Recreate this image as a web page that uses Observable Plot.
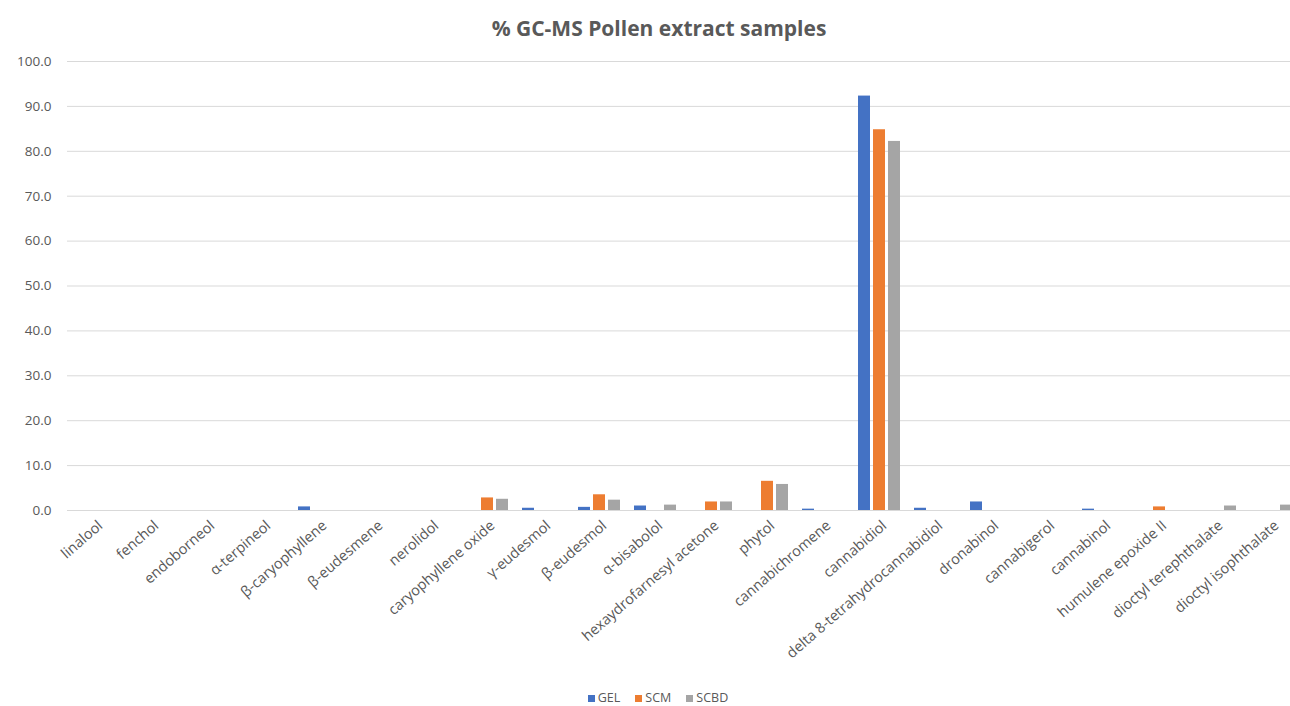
<!DOCTYPE html>
<html>
<head>
<meta charset="utf-8">
<script src="https://cdn.jsdelivr.net/npm/d3@7"></script>
<script src="https://cdn.jsdelivr.net/npm/@observablehq/plot@0.6"></script>
<style>
  body { margin: 0; background: #fff; width: 1290px; height: 706px; overflow: hidden; position: relative;
         font-family: "Open Sans", "Noto Sans", sans-serif; color: #595959; }
  #title { height: 45px; line-height: 56px; text-align: center; font-weight: bold;
           font-size: 21px; padding-left: 28px; box-sizing: border-box; }
  #legend { position: absolute; left: 0; width: 1290px; top: 691px; line-height: 14px;
            display: flex; justify-content: center; gap: 15px; font-size: 12.5px;
            padding-left: 26px; box-sizing: border-box; }
  #legend span.sw { display: inline-block; width: 7px; height: 7px; margin-right: 3px; }
</style>
</head>
<body>
<div id="title">% GC-MS Pollen extract samples</div>
<div id="chart"></div>
<div id="legend"></div>
<script>
// Compounds identified by GC-MS, in reporting order
const categories = [
  "linalool", "fenchol", "endoborneol", "α-terpineol", "β-caryophyllene",
  "β-eudesmene", "nerolidol", "caryophyllene oxide", "γ-eudesmol", "β-eudesmol",
  "α-bisabolol", "hexaydrofarnesyl acetone", "phytol", "cannabichromene",
  "cannabidiol", "delta 8-tetrahydrocannabidiol", "dronabinol", "cannabigerol",
  "cannabinol", "humulene epoxide II", "dioctyl terephthalate", "dioctyl isophthalate"
];

// Relative abundance (%) for each sample
const gel  = [0, 0, 0, 0, 0.8, 0, 0, 0, 0.5, 0.7, 1.0, 0, 0, 0.3, 92.3, 0.5, 1.9, 0, 0.3, 0, 0, 0];
const scm  = [0, 0, 0, 0, 0, 0, 0, 2.8, 0, 3.5, 0, 1.9, 6.5, 0, 84.8, 0, 0, 0, 0, 0.8, 0, 0];
const scbd = [0, 0, 0, 0, 0, 0, 0, 2.5, 0, 2.3, 1.2, 1.9, 5.8, 0, 82.2, 0, 0, 0, 0, 0, 1.0, 1.2];

const samples = ["GEL", "SCM", "SCBD"];
const colors = ["#4472C4", "#ED7D31", "#A5A5A5"];
const yTicks = [0, 10, 20, 30, 40, 50, 60, 70, 80, 90, 100];

const seriesValues = [gel, scm, scbd];
const rows = categories.flatMap((compound, i) =>
  samples.map((sample, s) => ({compound, sample, value: seriesValues[s][i]}))
).filter(d => d.value > 0);

// Gridlines repeated in every compound panel so that no panel is empty
const gridRows = categories.flatMap(compound => yTicks.map(tick => ({compound, tick})));

const chart = Plot.plot({
  width: 1290,
  height: 640,
  marginLeft: 65,
  marginRight: -11,
  marginTop: 16,
  marginBottom: 175,
  style: {fontFamily: "'Open Sans', 'Noto Sans', sans-serif", fontSize: "13px", color: "#595959", background: "#fff"},
  fx: {domain: categories, padding: 0, label: null},
  x: {domain: samples, paddingInner: 0.22, paddingOuter: 0.43, axis: null},
  y: {domain: [0, 100], label: null},
  color: {domain: samples, range: colors},
  marks: [
    Plot.ruleY(gridRows, {fx: "compound", y: "tick", stroke: "#d9d9d9", strokeWidth: 1}),
    Plot.barY(rows, {fx: "compound", x: "sample", y: "value", fill: "sample"}),
    Plot.axisY({ticks: yTicks, tickFormat: d3.format(".1f"), tickSize: 0, tickPadding: 16, label: null, fontSize: 13.5}),
    Plot.axisFx({anchor: "bottom", tickRotate: -41, tickSize: 0, tickPadding: 13, dx: 5, label: null, fontSize: 14.5})
  ]
});
document.getElementById("chart").appendChild(chart);

// Legend below the chart
const legend = document.getElementById("legend");
samples.forEach((s, i) => {
  const item = document.createElement("div");
  item.innerHTML = `<span class="sw" style="background:${colors[i]}"></span>${s}`;
  legend.appendChild(item);
});
</script>
</body>
</html>
